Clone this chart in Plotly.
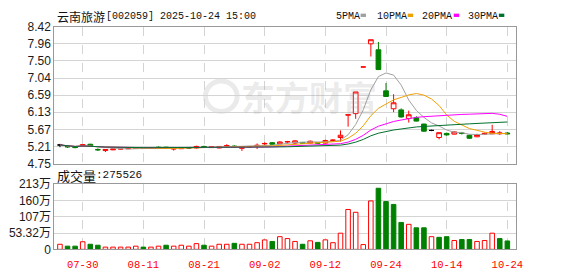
import numpy as np
import pandas as pd
import plotly.graph_objects as go

W, H = 578, 276

# ---------------- data ----------------
dates = ["07-25", "07-28", "07-29", "07-30", "07-31", "08-01", "08-04", "08-05", "08-06", "08-07",
         "08-08", "08-11", "08-12", "08-13", "08-14", "08-15", "08-18", "08-19", "08-20", "08-21",
         "08-22", "08-25", "08-26", "08-27", "08-28", "08-29", "09-01", "09-02", "09-03", "09-04",
         "09-05", "09-08", "09-09", "09-10", "09-11", "09-12", "09-15", "09-16", "09-17", "09-18",
         "09-19", "09-22", "09-23", "09-24", "09-25", "09-26", "09-29", "09-30", "10-09", "10-10",
         "10-13", "10-14", "10-15", "10-16", "10-17", "10-20", "10-21", "10-22", "10-23", "10-24"]

open_ = [5.25, 5.21, 5.21, 5.21, 5.27, 5.13, 5.10, 5.12, 5.14, 5.15,
         5.16, 5.17, 5.16, 5.19, 5.19, 5.14, 5.15, 5.17, 5.17, 5.21,
         5.18, 5.17, 5.22, 5.22, 5.16, 5.19, 5.22, 5.28, 5.31, 5.28,
         5.33, 5.30, 5.32, 5.30, 5.31, 5.30, 5.37, 5.45, 6.05, 6.09,
         7.34, 7.96, 7.80, 6.70, 6.22, 6.19, 5.96, 5.98, 5.81, 5.64,
         5.45, 5.56, 5.54, 5.57, 5.51, 5.47, 5.54, 5.55, 5.55, 5.57]
high = [5.28, 5.25, 5.22, 5.27, 5.28, 5.16, 5.13, 5.14, 5.16, 5.17,
        5.18, 5.18, 5.18, 5.21, 5.20, 5.18, 5.18, 5.19, 5.23, 5.23,
        5.22, 5.22, 5.27, 5.24, 5.21, 5.22, 5.29, 5.32, 5.33, 5.35,
        5.36, 5.38, 5.33, 5.37, 5.32, 5.39, 5.40, 5.64, 6.06, 6.67,
        7.34, 8.07, 8.01, 6.91, 6.61, 6.23, 6.17, 6.02, 5.82, 5.66,
        5.58, 5.58, 5.61, 5.60, 5.53, 5.55, 5.58, 5.79, 5.62, 5.60]
low = [5.19, 5.17, 5.16, 5.20, 5.20, 5.09, 5.06, 5.11, 5.13, 5.14,
       5.15, 5.15, 5.15, 5.17, 5.16, 5.10, 5.14, 5.15, 5.15, 5.18,
       5.17, 5.16, 5.17, 5.18, 5.09, 5.18, 5.14, 5.25, 5.25, 5.27,
       5.29, 5.28, 5.29, 5.29, 5.28, 5.29, 5.35, 5.34, 5.74, 5.95,
       7.34, 7.62, 7.26, 6.55, 6.13, 5.98, 5.85, 5.88, 5.60, 5.62,
       5.40, 5.50, 5.53, 5.53, 5.42, 5.46, 5.52, 5.54, 5.52, 5.53]
close = [5.25, 5.20, 5.18, 5.26, 5.22, 5.12, 5.13, 5.14, 5.15, 5.16,
         5.17, 5.16, 5.17, 5.18, 5.17, 5.17, 5.17, 5.17, 5.21, 5.19,
         5.20, 5.21, 5.23, 5.20, 5.20, 5.21, 5.24, 5.29, 5.27, 5.33,
         5.34, 5.36, 5.30, 5.35, 5.30, 5.37, 5.38, 5.51, 6.06, 6.67,
         7.34, 8.07, 7.27, 6.55, 6.38, 6.00, 6.06, 5.89, 5.62, 5.64,
         5.58, 5.52, 5.60, 5.56, 5.43, 5.53, 5.56, 5.61, 5.57, 5.55]
# volume in 万 (10k lots)
volume = [16.6, 10.4, 10.4, 24.9, 16.6, 13.5, 7.3, 7.3, 7.3, 7.3,
          10.4, 7.3, 7.3, 10.4, 13.5, 10.4, 13.5, 10.4, 18.7, 13.5,
          10.4, 16.6, 16.6, 19.7, 16.6, 16.6, 21.8, 30.9, 25.9, 41.5,
          35.3, 25.9, 16.6, 28.0, 22.8, 31.1, 21.8, 52.9, 130.6, 121.3,
          15.6, 158.6, 200.0, 156.5, 147.2, 88.1, 81.9, 70.5, 70.5, 41.5,
          39.4, 41.5, 29.0, 32.1, 32.1, 25.9, 29.0, 52.9, 35.3, 27.5526]

ma_windows = [5, 10, 20, 30]
ma_names = ["5PMA", "10PMA", "20PMA", "30PMA"]
ma_colors = ["#a0a0a0", "#f0a000", "#ff00ff", "#00702e"]

x_labels = ["07-30", "08-11", "08-21", "09-02", "09-12", "09-24", "10-14", "10-24"]
price_tick_labels = ["4.75", "5.21", "5.67", "6.13", "6.59", "7.04", "7.50", "7.96", "8.42"]
vol_tick_labels = ["0", "53.32万", "107万", "160万", "213万"]
vol_axis_top = 213.28

title_name = "云南旅游"
title_code = "[002059] 2025-10-24 15:00"

# ---------------- helpers ----------------
RED = "#ff0000"
GREEN = "#008000"


def px_x(p):
    return p / W


def px_y(p):
    return 1 - p / H


o = np.array(open_)
h = np.array(high)
l = np.array(low)
c = np.array(close)
v = np.array(volume)
x = np.arange(len(dates))
prev = np.r_[c[0], c[:-1]]

up = c > o
dn = c < o
flat = c == o
flat_line = flat & (h == l)
doji = flat & (h > l)

fig = go.Figure()


def candle(mask, color, fill):
    return go.Candlestick(
        x=x[mask], open=o[mask], high=h[mask], low=l[mask], close=c[mask],
        increasing=dict(line=dict(color=color, width=1), fillcolor=fill),
        decreasing=dict(line=dict(color=color, width=1), fillcolor=fill),
        whiskerwidth=0, xaxis="x", yaxis="y", hoverinfo="skip",
    )


fig.add_trace(candle(up, RED, "#ffffff"))
fig.add_trace(candle(dn, GREEN, GREEN))
fig.add_trace(candle(doji, "#000000", "#000000"))
fl_up = flat_line & (c >= prev)
fl_dn = flat_line & (c < prev)
fig.add_trace(candle(fl_up, RED, RED))
fig.add_trace(candle(fl_dn, GREEN, GREEN))

cs = pd.Series(c)
for w, name, col in zip(ma_windows, ma_names, ma_colors):
    ma = cs.rolling(w, min_periods=1).mean()
    fig.add_trace(go.Scatter(x=x, y=ma, mode="lines", line=dict(color=col, width=1),
                             xaxis="x", yaxis="y", hoverinfo="skip", name=name))

vol_up = c >= prev
fig.add_trace(go.Bar(
    x=x, y=v, width=0.6,
    marker=dict(color=np.where(vol_up, "#ffffff", GREEN).tolist(),
                line=dict(color=np.where(vol_up, RED, GREEN).tolist(), width=1)),
    xaxis="x2", yaxis="y2", hoverinfo="skip",
))

tick_idx = [dates.index(d) for d in x_labels]
p_lo, p_hi = float(price_tick_labels[0]), float(price_tick_labels[-1])
p_vals = np.linspace(p_lo, p_hi, len(price_tick_labels))
v_vals = np.linspace(0, vol_axis_top, len(vol_tick_labels))

x_dom = [px_x(55), px_x(522)]
xr = [-0.74, 60.1]
axis_font = dict(family="Liberation Sans, Noto Sans CJK SC", size=12, color="#1a1a1a")
frame = "#999999"
grid = "#d4d4d4"

common_x = dict(domain=x_dom, range=xr, tickmode="array", tickvals=tick_idx, ticktext=x_labels,
                showgrid=True, gridcolor=grid, griddash="dash", gridwidth=1,
                showline=True, mirror=True, linecolor=frame, linewidth=1, zeroline=False,
                fixedrange=True)

fig.update_layout(
    width=W, height=H, margin=dict(l=0, r=0, t=0, b=0),
    paper_bgcolor="white", plot_bgcolor="white", showlegend=False,
    boxgap=0.2, boxgroupgap=0.22,
    xaxis=dict(**common_x, anchor="y", showticklabels=False, ticks="",
               rangeslider=dict(visible=False)),
    xaxis2=dict(**common_x, anchor="y2", matches="x", showticklabels=True,
                ticks="outside", ticklen=5, tickcolor="rgba(0,0,0,0)",
                tickfont=dict(family="Liberation Mono", size=10.5, color=RED)),
    yaxis=dict(domain=[px_y(165), px_y(20.7)], range=[p_lo, p_hi], tickmode="array",
               tickvals=p_vals, ticktext=price_tick_labels, showgrid=True, gridcolor=grid,
               showline=True, mirror=True, linecolor=frame, zeroline=False, ticks="",
               tickfont=axis_font, anchor="x"),
    yaxis2=dict(domain=[px_y(255.3), px_y(186.7)], range=[0, vol_axis_top], tickmode="array",
                tickvals=v_vals, ticktext=vol_tick_labels, showgrid=True, gridcolor=grid,
                showline=True, mirror=True, linecolor=frame, zeroline=False, ticks="",
                tickfont=axis_font, anchor="x2"),
)

ann = []
# watermark
ann.append(dict(text="东方财富", x=px_x(313), y=px_y(94), xref="paper", yref="paper",
                showarrow=False, xanchor="center", yanchor="middle",
                font=dict(family="Noto Sans CJK SC", size=34, weight=700,
                          color="rgba(150,150,150,0.2)")))
# title
ann.append(dict(text=title_name, x=px_x(56), y=px_y(9.5), xref="paper", yref="paper",
                showarrow=False, xanchor="left", yanchor="middle",
                font=dict(family="Noto Sans CJK SC", size=12, color="#111")))
ann.append(dict(text=title_code, x=px_x(105), y=px_y(9.5), xref="paper", yref="paper",
                showarrow=False, xanchor="left", yanchor="middle",
                font=dict(family="Liberation Mono", size=10, color="#111")))
# legend
leg_text_x = [338, 380, 425, 471.7]
leg_sq_x = [365, 412.7, 459.3, 505]
shapes = []
for name, col, tx, sx in zip(ma_names, ma_colors, leg_text_x, leg_sq_x):
    ann.append(dict(text=name, x=px_x(tx), y=px_y(9.5), xref="paper", yref="paper",
                    showarrow=False, xanchor="left", yanchor="middle",
                    font=dict(family="Liberation Mono", size=10, color="#111")))
    shapes.append(dict(type="rect", xref="paper", yref="paper",
                       x0=px_x(sx), x1=px_x(sx + 5.5), y0=px_y(10.5), y1=px_y(7),
                       fillcolor=col, line=dict(width=0)))
# watermark logo ring
shapes.append(dict(type="circle", xref="paper", yref="paper",
                   x0=px_x(208), x1=px_x(240), y0=px_y(110), y1=px_y(78),
                   line=dict(color="rgba(150,150,150,0.2)", width=5), layer="below"))
# volume caption
ann.append(dict(text="成交量", x=px_x(56), y=px_y(177.5), xref="paper", yref="paper",
                showarrow=False, xanchor="left", yanchor="middle",
                font=dict(family="Noto Sans CJK SC", size=13, color="#111")))
ann.append(dict(text=":" + str(int(round(v[-1] * 10000))), x=px_x(95), y=px_y(177.5),
                xref="paper", yref="paper", showarrow=False, xanchor="left", yanchor="middle",
                font=dict(family="Liberation Mono", size=11, color="#111")))

fig.update_layout(annotations=ann, shapes=shapes)
fig.write_html("out.html")
